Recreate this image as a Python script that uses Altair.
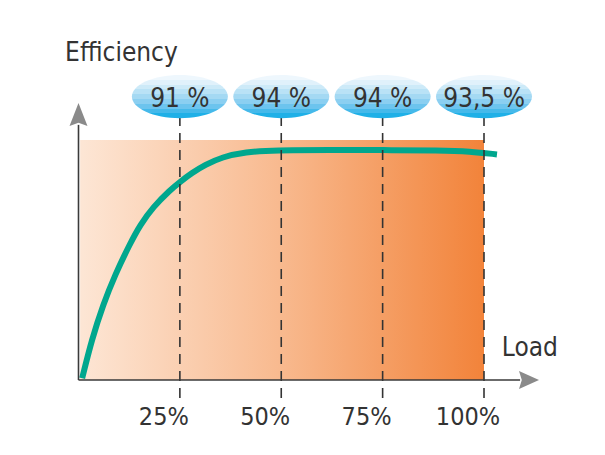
import altair as alt
import pandas as pd

# ---------------- data ----------------
load_ticks = [25, 50, 75, 100]
tick_labels = ["25%", "50%", "75%", "100%"]
bubble_labels = ["91 %", "94 %", "94 %", "93,5 %"]

# efficiency curve (schematic level, 0 = x axis, 100 = top of shaded band)
curve_load = [0.9, 3.3, 6.1, 9.0, 12.7, 15.2, 18.4, 22.6, 25.0, 28.0, 31.2,
              35.4, 41.1, 48.5, 62.0, 75.0, 89.1, 96.5, 103.2]
curve_level = [0.7, 17.0, 31.5, 43.8, 56.8, 64.6, 72.1, 79.2, 82.5, 86.3, 89.6,
               92.9, 95.0, 95.8, 95.8, 95.8, 95.7, 95.3, 94.0]

band_x = [0.4]
band_x2 = [100]
band_y = [0]
band_y2 = [100]

axis_x_end = 108.9
axis_y_end = 106.3
arrow_x_pos = 111.1
arrow_y_pos = 110.6
dash_bottom = -7.5
dash_top = 109.2
bubble_level = 118.1
bubble_text_level = 113.8
tick_text_level = -18.8

font = "Liberation Sans Narrow, DejaVu Sans Condensed, sans-serif"
txt_color = "#333333"

xs = alt.Scale(domain=[-17.386, 127.867], nice=False, zero=False)
ys = alt.Scale(domain=[-27.917, 155], nice=False, zero=False)

def X(f="x"):
    return alt.X(f"{f}:Q", scale=xs, axis=None)

def Y(f="y"):
    return alt.Y(f"{f}:Q", scale=ys, axis=None)

# shaded band
band_df = pd.DataFrame({"x": band_x, "x2": band_x2, "y": band_y, "y2": band_y2})
band = alt.Chart(band_df).mark_rect(
    color=alt.Gradient(
        gradient="linear",
        stops=[alt.GradientStop(offset=0, color="#fde6d5"),
               alt.GradientStop(offset=0.5, color="#f8b98e"),
               alt.GradientStop(offset=1, color="#f2833a")],
        x1=0, x2=1, y1=0, y2=0)
).encode(x=X(), x2="x2:Q", y=Y(), y2="y2:Q")

# curve
curve_df = pd.DataFrame({"x": curve_load, "y": curve_level})
curve = alt.Chart(curve_df).mark_line(
    color="#00a78e", strokeWidth=6, interpolate="basis"
).encode(x=X(), y=Y())

# dashed guides
dash_df = pd.DataFrame({"x": load_ticks, "y": [dash_bottom] * 4, "y2": [dash_top] * 4})
dashes = alt.Chart(dash_df).mark_rule(
    color="#333333", strokeWidth=1.6, strokeDash=[10, 7]
).encode(x=X(), y=Y(), y2="y2:Q")

# axes lines
xaxis_df = pd.DataFrame({"x": [0], "x2": [axis_x_end], "y": [0]})
xaxis = alt.Chart(xaxis_df).mark_rule(color="#3a3a3a", strokeWidth=1.6).encode(
    x=X(), x2="x2:Q", y=Y())
yaxis_df = pd.DataFrame({"x": [0], "y": [0], "y2": [axis_y_end]})
yaxis = alt.Chart(yaxis_df).mark_rule(color="#3a3a3a", strokeWidth=1.6).encode(
    x=X(), y=Y(), y2="y2:Q")

# arrow heads
up_arrow = "M0,-1L0.78,1L0,0.72L-0.78,1Z"
right_arrow = "M1,0L-1,0.9L-0.72,0L-1,-0.9Z"
ua = alt.Chart(pd.DataFrame({"x": [0], "y": [arrow_y_pos]})).mark_point(
    shape=up_arrow, size=529, filled=True, fill="#8a8a8a", opacity=1, strokeWidth=0
).encode(x=X(), y=Y())
ra = alt.Chart(pd.DataFrame({"x": [arrow_x_pos], "y": [0]})).mark_point(
    shape=right_arrow, size=400, filled=True, fill="#8a8a8a", opacity=1, strokeWidth=0
).encode(x=X(), y=Y())

# bubbles
blues = ["#eef7fd", "#e0f1fb", "#cdeaf8", "#b9e2f6", "#a4d9f3",
         "#8bcff1", "#6cc4ee", "#45b9ea", "#1fb0e7"]
stops = []
n = len(blues)
for i, c in enumerate(blues):
    stops.append(alt.GradientStop(offset=i / n, color=c))
    stops.append(alt.GradientStop(offset=(i + 1) / n, color=c))
ellipse = "M-1,0A1,0.45,0,1,1,1,0A1,0.45,0,1,1,-1,0Z"
bub_df = pd.DataFrame({"x": load_ticks, "y": [bubble_level] * 4,
                       "ty": [bubble_text_level] * 4, "label": bubble_labels})
bubbles = alt.Chart(bub_df).mark_point(
    shape=ellipse, size=9216, filled=True, opacity=1, strokeWidth=0,
    fill=alt.Gradient(gradient="linear", stops=stops, x1=0, x2=0, y1=0, y2=1)
).encode(x=X(), y=Y())
bub_text = alt.Chart(bub_df).mark_text(
    font=font, fontSize=26, color=txt_color, align="center", baseline="alphabetic"
).encode(x=X(), y=Y("ty"), text="label:N")

# tick labels
tick_df = pd.DataFrame({"x": load_ticks, "y": [tick_text_level] * 4, "label": tick_labels})
ticks = alt.Chart(tick_df).mark_text(
    font=font, fontSize=25, color=txt_color, align="center", baseline="alphabetic", dx=-16
).encode(x=X(), y=Y(), text="label:N")

# axis titles
title_df = pd.DataFrame({"x": [-3.3, 104.4], "y": [132.9, 10.0], "label": ["Efficiency", "Load"]})
titles = alt.Chart(title_df).mark_text(
    font=font, fontSize=26, color=txt_color, align="left", baseline="alphabetic"
).encode(x=X(), y=Y(), text="label:N")

chart = alt.layer(
    band, curve, dashes, xaxis, yaxis, ua, ra, bubbles, bub_text, ticks, titles
).properties(
    width=589, height=439, autosize=alt.AutoSizeParams(type="none"), padding=0,
    background="white"
).configure_view(strokeWidth=0)

chart.save("out.html", embed_options={"renderer": "svg", "actions": False})
